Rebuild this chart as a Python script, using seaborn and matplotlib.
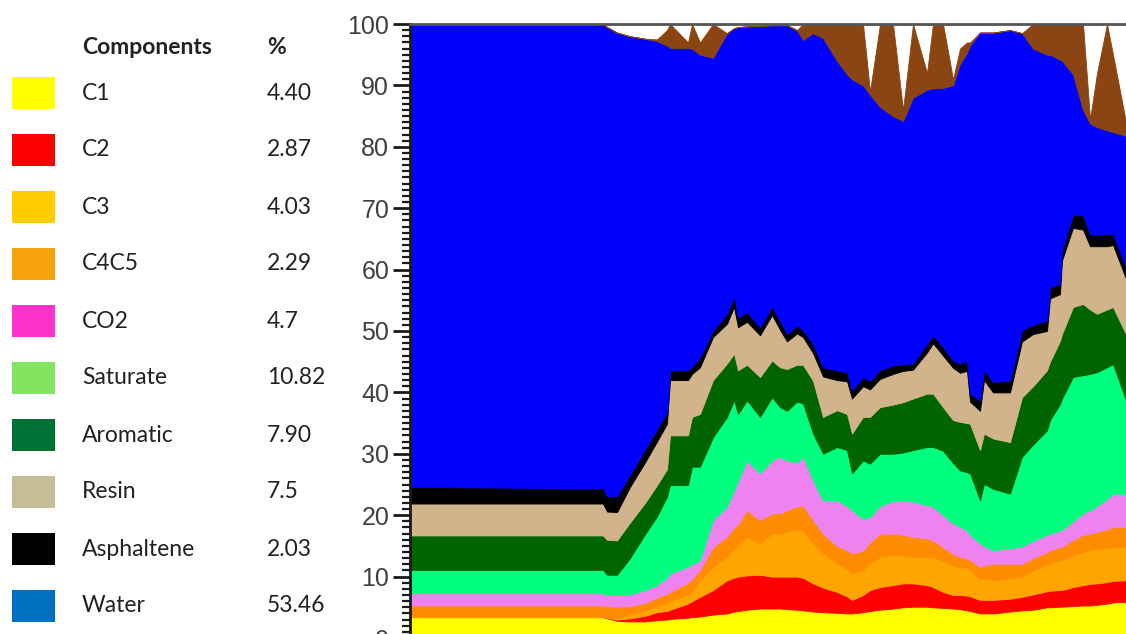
import numpy as np
import seaborn as sns
import matplotlib
matplotlib.use("Agg")
import matplotlib.pyplot as plt
from matplotlib.patches import Rectangle
from matplotlib.ticker import MultipleLocator

sns.set_style("ticks")
plt.rcParams["font.family"] = ["Liberation Sans", "DejaVu Sans"]

# legend table (left side)
components = ["C1", "C2", "C3", "C4C5", "CO2", "Saturate", "Aromatic", "Resin", "Asphaltene", "Water"]
percents = ["4.40", "2.87", "4.03", "2.29", "4.7", "10.82", "7.90", "7.5", "2.03", "53.46"]
legend_colors = ["#ffff00", "#ff0000", "#ffcc00", "#f9a10a", "#ff33cc",
                 "#83e462", "#007236", "#c4bd97", "#000000", "#0070c0"]

# stacked profile, position along the section
position = [0, 193, 197, 207, 220, 235, 247, 257, 260, 278,
            282, 290, 303, 317, 324, 328, 337, 350, 362, 370,
            377, 387, 393, 403, 413, 427, 437, 442, 453, 460,
            470, 483, 493, 503, 517, 523, 533, 543, 550, 557,
            560, 570, 574, 583, 600, 612, 623, 637, 640, 650,
            652, 663, 673, 680, 687, 697, 703, 716]

c1 = [3.4, 3.4, 3.2, 2.8, 2.7, 2.7, 2.9, 3.0, 3.1, 3.3,
      3.4, 3.5, 3.8, 4.0, 4.3, 4.4, 4.6, 4.8, 4.8, 4.8,
      4.7, 4.6, 4.5, 4.3, 4.2, 4.1, 4.0, 4.0, 4.2, 4.4,
      4.6, 4.8, 5.0, 5.1, 5.1, 5.0, 4.9, 4.8, 4.7, 4.5,
      4.4, 4.0, 4.0, 4.0, 4.3, 4.5, 4.6, 5.0, 5.0, 5.1,
      5.1, 5.2, 5.3, 5.3, 5.4, 5.6, 5.8, 5.9]
c2 = [0.0, 0.0, 0.1, 0.2, 0.5, 0.9, 1.3, 1.4, 1.5, 2.3,
      2.6, 3.2, 4.0, 5.4, 5.5, 5.6, 5.6, 5.5, 5.2, 5.2,
      5.3, 5.4, 5.3, 4.6, 4.0, 3.4, 2.8, 2.2, 2.8, 3.4,
      3.7, 3.8, 3.9, 3.8, 3.5, 3.3, 2.6, 2.2, 2.3, 2.4,
      2.4, 2.2, 2.2, 2.2, 2.1, 2.2, 2.5, 2.6, 2.7, 2.7,
      2.7, 3.1, 3.3, 3.5, 3.5, 3.5, 3.5, 3.5]
c3 = [0.2, 0.2, 0.2, 0.3, 0.7, 0.9, 1.1, 1.3, 1.4, 1.5,
      1.6, 2.7, 3.8, 3.8, 4.7, 5.0, 6.3, 5.1, 7.0, 7.0,
      7.3, 7.6, 7.7, 6.5, 5.6, 4.7, 4.4, 4.3, 4.0, 4.4,
      4.9, 5.0, 4.6, 4.3, 4.6, 4.9, 5.0, 4.8, 4.5, 4.6,
      4.2, 3.4, 3.4, 3.2, 3.4, 3.3, 3.9, 4.4, 4.5, 4.9,
      4.9, 5.2, 5.4, 5.5, 5.6, 5.6, 5.5, 5.4]
c4c5 = [1.7, 1.7, 1.7, 1.8, 1.3, 1.2, 1.3, 1.5, 1.5, 1.9,
        2.0, 1.7, 3.2, 3.3, 3.5, 3.5, 4.3, 3.8, 3.3, 3.3,
        3.5, 3.8, 4.1, 3.8, 3.2, 2.8, 3.1, 3.3, 3.2, 3.4,
        3.8, 3.4, 3.3, 3.3, 3.0, 2.7, 2.3, 1.9, 1.7, 1.5,
        1.7, 2.0, 2.2, 2.7, 2.3, 2.1, 2.0, 2.0, 2.1, 2.1,
        2.1, 2.5, 2.8, 2.7, 2.8, 3.0, 3.3, 3.3]
co2 = [2.0, 2.0, 1.8, 1.9, 1.9, 2.1, 2.0, 2.6, 3.0, 2.6,
       2.4, 1.6, 4.4, 4.9, 6.0, 7.0, 8.1, 7.6, 8.6, 9.2,
       8.1, 7.2, 7.9, 6.5, 5.4, 7.4, 7.2, 7.0, 5.2, 4.1,
       4.5, 5.3, 5.6, 5.7, 5.4, 5.5, 5.2, 5.0, 4.9, 4.5,
       4.1, 3.8, 3.2, 2.2, 2.5, 2.8, 2.8, 2.8, 2.7, 2.7,
       2.8, 3.0, 3.5, 3.8, 4.2, 4.9, 5.4, 5.4]
saturate = [3.8, 3.8, 3.3, 3.3, 5.9, 9.1, 11.2, 13.2, 14.4, 13.3,
            15.9, 15.2, 13.5, 14.6, 14.7, 11.0, 9.8, 9.2, 10.3, 8.1,
            8.1, 9.9, 8.7, 7.6, 7.6, 8.7, 9.1, 6.0, 9.5, 8.7,
            8.5, 7.7, 7.8, 8.4, 9.5, 9.7, 10.5, 9.8, 9.2, 9.5,
            10.0, 7.0, 10.1, 10.0, 8.9, 14.6, 15.7, 17.0, 18.5, 20.6,
            21.4, 23.5, 22.5, 22.2, 21.8, 21.5, 21.1, 15.2]
aromatic = [5.6, 5.6, 5.7, 5.6, 5.8, 5.1, 5.1, 4.5, 8.1, 8.1,
            8.1, 8.6, 9.3, 8.7, 7.6, 7.1, 5.8, 6.5, 6.0, 6.5,
            6.8, 6.0, 6.3, 8.6, 6.0, 6.0, 5.9, 6.5, 7.1, 7.6,
            7.6, 8.0, 8.2, 8.4, 8.7, 8.7, 7.1, 7.0, 7.9, 8.0,
            8.1, 8.2, 8.2, 8.2, 8.4, 9.7, 9.5, 9.8, 9.5, 10.3,
            10.5, 11.4, 11.6, 10.5, 9.5, 9.4, 9.3, 10.8]
resin = [5.2, 5.2, 4.6, 4.6, 5.8, 6.6, 7.1, 7.4, 9.0, 9.0,
         7.0, 7.6, 7.0, 6.5, 7.6, 7.0, 7.0, 6.8, 7.4, 6.1,
         4.5, 5.1, 4.5, 4.5, 6.6, 4.9, 5.3, 5.7, 5.0, 4.5,
         4.6, 5.0, 5.1, 4.7, 6.7, 8.2, 8.4, 8.5, 8.0, 8.5,
         3.6, 6.4, 8.7, 7.5, 8.1, 9.1, 8.5, 6.4, 10.3, 7.6,
         12.0, 12.9, 12.1, 10.3, 11.0, 10.3, 10.1, 9.0]
asphaltene = [2.7, 2.5, 2.5, 2.6, 2.0, 2.1, 2.0, 1.9, 1.6, 1.6,
              1.2, 1.6, 1.1, 1.6, 1.9, 1.6, 1.6, 1.3, 1.4, 1.5,
              1.2, 1.3, 1.1, 1.5, 1.5, 1.6, 1.5, 1.3, 1.5, 1.4,
              1.4, 1.4, 1.1, 1.0, 1.4, 1.3, 1.4, 1.2, 1.5, 1.7,
              1.3, 1.7, 1.6, 1.7, 1.9, 1.8, 1.5, 1.7, 1.8, 1.7,
              1.6, 2.2, 2.3, 2.0, 2.0, 2.0, 1.8, 1.9]
water = [75.4, 75.6, 76.4, 75.5, 71.4, 66.9, 63.2, 59.7, 52.5, 52.5,
         51.8, 49.3, 44.4, 45.7, 43.5, 47.3, 46.5, 49.1, 45.8, 48.1,
         50.3, 48.1, 47.3, 50.6, 53.6, 50.4, 48.5, 50.7, 47.5, 46.6,
         42.9, 40.6, 39.6, 43.3, 41.4, 40.2, 42.2, 44.8, 48.8, 50.1,
         56.7, 59.9, 55.0, 56.9, 57.1, 48.4, 45.0, 43.3, 37.9, 36.5,
         30.9, 22.8, 17.2, 18.0, 17.4, 16.9, 16.6, 21.4]
other = [0, 0, 0, 0, 0, 0, 0.3, 2.5, 3.9, 0.9,
         4.0, 2.0, 5.5, 0, 0, 0, 0, 0, 0, 0,
         0, 0, 2.6, 1.5, 2.3, 6.0, 8.2, 9.0, 10.0, 0.5,
         13.5, 15.0, 1.8, 12.0, 2.7, 10.5, 10.4, 1.0, 2.5, 1.7,
         0.5, 0, 0, 0, 0, 0, 4.0, 5.0, 5.0, 5.8,
         6.0, 8.2, 14.0, 0.7, 8.8, 17.3, 12.6, 2.2]

area_colors = ["#ffff00", "#ff0000", "#ffa500", "#ff8c00", "#ee82ee", "#00ff7f",
               "#006400", "#d2b48c", "#000000", "#0000ff", "#8b4513"]

fig = plt.figure(figsize=(11.26, 6.34), dpi=100)

# chart axes (cropped at bottom and right like the reference)
ax = fig.add_axes([410 / 1126, 1 - 638 / 634, 716 / 1126, 614 / 634])
layers = ax.stackplot(position, c1, c2, c3, c4c5, co2, saturate, aromatic,
                      resin, asphaltene, water, other, colors=area_colors)
for poly, col in zip(layers, area_colors):
    poly.set_edgecolor(col)
    poly.set_linewidth(0.6)

ax.set_xlim(0, 716)
ax.set_ylim(0, 100)
sns.despine(ax=ax, right=True, top=False, bottom=True)
ax.yaxis.set_major_locator(MultipleLocator(10))
ax.yaxis.set_minor_locator(MultipleLocator(1))
ax.tick_params(axis="y", which="major", length=12, width=2, pad=3,
               labelsize=18, labelcolor="#404040", color="#1a1a1a")
ax.tick_params(axis="y", which="minor", length=6, width=1.6, color="#1a1a1a")
ax.tick_params(axis="x", which="both", bottom=False, top=False,
               labelbottom=False, labeltop=False)
ax.spines["left"].set_linewidth(2)
ax.spines["left"].set_color("#1a1a1a")
ax.spines["top"].set_linewidth(2)
ax.spines["top"].set_color("#555555")
ax.set_facecolor("white")

# legend table
lax = fig.add_axes([0, 0, 340 / 1126, 1])
lax.set_xlim(0, 340)
lax.set_ylim(634, 0)
lax.axis("off")
tfont = ["Lato", "DejaVu Sans"]
lax.text(82, 47, "Components", fontsize=16.5, fontweight="bold", family=tfont,
         color="#222222", va="center")
lax.text(267, 47, "%", fontsize=16.5, fontweight="bold", family=tfont,
         color="#222222", va="center")
for i, (name, pct, col) in enumerate(zip(components, percents, legend_colors)):
    yc = 93 + 57 * i
    lax.add_patch(Rectangle((12, yc - 16), 43, 32, facecolor=col, edgecolor="none"))
    lax.text(82, yc, name, fontsize=16.5, family=tfont, color="#222222", va="center")
    lax.text(267, yc, pct, fontsize=16.5, family=tfont, color="#222222", va="center")

fig.savefig("out.png", dpi=100)
